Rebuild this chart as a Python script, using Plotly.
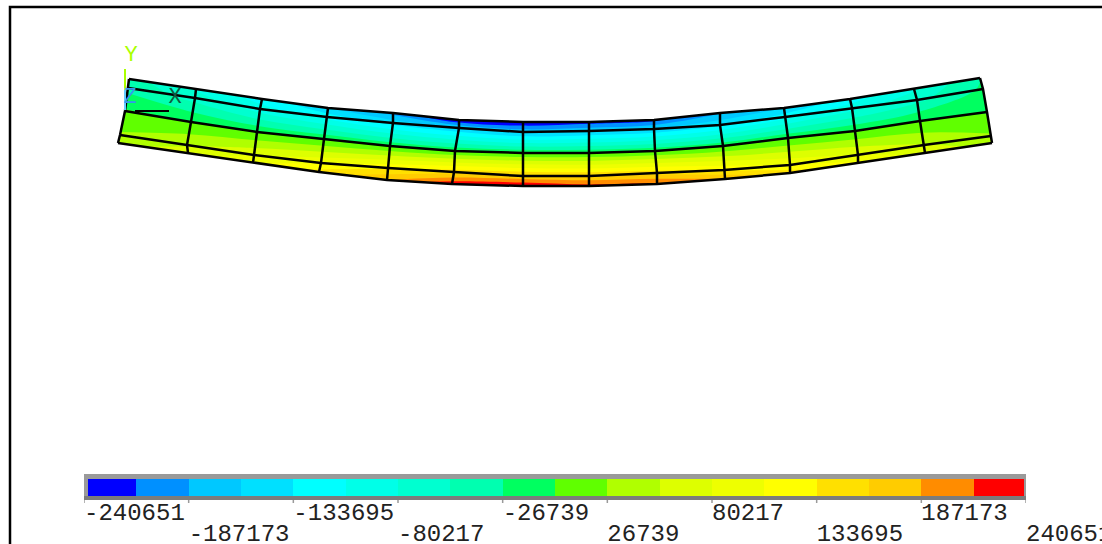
import plotly.graph_objects as go

W, H = 1102, 544

# Mesh node positions (columns left to right, rows top to bottom)
row_x = [
    [129, 196, 262, 328, 393, 459, 523, 589, 654, 720, 784, 850, 914, 980],
    [128, 195, 260, 327, 393, 459, 523, 589, 654, 720, 785, 852, 917, 983],
    [125, 191, 257, 324, 390, 455, 523, 589, 655, 723, 788, 855, 920, 987],
    [120, 187, 254, 321, 388, 454, 523, 589, 657, 724, 790, 858, 924, 991],
    [118, 188, 253, 319, 387, 452, 523, 589, 657, 725, 790, 858, 925, 992],
]
row_y = [
    [79, 89, 99, 108, 113, 120, 122, 122, 120, 113, 108, 99, 89, 78],
    [88, 98, 109, 117, 123, 128, 132, 131, 129, 125, 117, 108, 100, 89],
    [111, 122, 132, 139, 146, 151, 153, 153, 151, 146, 138, 131, 121, 112],
    [135, 145, 155, 163, 168, 172, 176, 176, 173, 170, 165, 155, 145, 136],
    [143, 153, 163, 172, 180, 184, 186, 186, 184, 179, 173, 163, 153, 143],
]

# Stress read at each mesh node
stress_top = [-40000, -85000, -120000, -158000, -198000, -240000, -240000, -226000, -222000, -190000, -160000, -122000, -84000, -28000]
stress_upper = [-35000, -65000, -95000, -118000, -145000, -160000, -168000, -165000, -160000, -140000, -118000, -92000, -62000, -22000]
stress_mid = [3000, 0, -2000, -4000, -4000, -3000, -2000, -2000, -3000, -4000, -4000, -2000, 0, -2000]
stress_lower = [30000, 50000, 78000, 105000, 130000, 150000, 165000, 160000, 150000, 130000, 108000, 82000, 55000, 30000]
stress_bottom = [45000, 70000, 105000, 145000, 188000, 232000, 240000, 224000, 220000, 188000, 150000, 112000, 72000, 42000]
stress_rows = [stress_top, stress_upper, stress_mid, stress_lower, stress_bottom]

# Legend
band_colors = ["#0000FF", "#0090FF", "#00C8FF", "#00E0FF", "#00FFFF", "#00FFE8",
               "#00FFD0", "#00FFB0", "#00FF60", "#60FF00", "#B0FF00", "#DDFF00",
               "#EEFF00", "#FFFF00", "#FFE000", "#FFCC00", "#FF8C00", "#FF0000"]
level_min, level_max, level_step = -240651, 240651, 26739.0
upper_ticks = [-240651, -133695, -26739, 80217, 187173]
lower_ticks = [-187173, -80217, 26739, 133695, 240651]

# Triad
triad = [("Y", 131, 55, "#AAFF00"), ("Z", 130, 97, "#3399EE"), ("X", 175, 97, "#0F5A40")]
triad_axes = [([125, 125], [69, 90], "#AAFF00"), ([125, 125], [90, 110], "#66CCFF"), ([135, 169], [111, 111], "#000000")]

n_cols, n_rows = len(row_x[0]), len(row_x)
colorscale = []
for i, c in enumerate(band_colors):
    colorscale += [[i / 18, c], [(i + 1) / 18, c]]

fig = go.Figure()

fig.add_trace(go.Carpet(
    carpet="beam",
    a=list(range(n_cols)), b=list(range(n_rows)),
    x=row_x, y=row_y,
    aaxis=dict(smoothing=0, showgrid=False, showticklabels="none", showline=False, minorgridcount=0, startline=False, endline=False),
    baxis=dict(smoothing=0, showgrid=False, showticklabels="none", showline=False, minorgridcount=0, startline=False, endline=False),
))
fig.add_trace(go.Contourcarpet(
    carpet="beam",
    a=list(range(n_cols)), b=list(range(n_rows)), z=stress_rows,
    autocontour=False,
    contours=dict(start=level_min, end=level_max, size=level_step, coloring="fill"),
    line=dict(width=0),
    colorscale=colorscale, zmin=level_min, zmax=level_max,
    showscale=False,
))

# Mesh lines
mx, my = [], []
for r in range(n_rows):
    mx += row_x[r] + [None]
    my += row_y[r] + [None]
for c in range(n_cols):
    mx += [row_x[r][c] for r in range(n_rows)] + [None]
    my += [row_y[r][c] for r in range(n_rows)] + [None]
fig.add_trace(go.Scatter(x=mx, y=my, mode="lines", line=dict(color="#000000", width=2.5), hoverinfo="skip"))

# Triad
for xs, ys, c in triad_axes:
    fig.add_trace(go.Scatter(x=xs, y=ys, mode="lines", line=dict(color=c, width=2), hoverinfo="skip"))
for t, x, y, c in triad:
    fig.add_trace(go.Scatter(x=[x], y=[y], mode="text", text=[t],
                             textfont=dict(family="Liberation Mono", size=22, color=c), hoverinfo="skip"))

# Frame
fig.add_trace(go.Scatter(x=[W, 10, 10], y=[7, 7, H], mode="lines",
                         line=dict(color="#000000", width=2.5), hoverinfo="skip", cliponaxis=False))

# Legend frame
span = level_max - level_min
fig.add_trace(go.Bar(x=[0], width=[span], base=[474], y=[26], xaxis="x2", yaxis="y",
                     marker=dict(color="#9A9A9A", line=dict(width=0)), hoverinfo="skip"))
centers = [level_min + (i + 0.5) * span / 18 for i in range(18)]
fig.add_trace(go.Bar(x=centers, width=[span / 18] * 18, base=[479] * 18, y=[17] * 18,
                     xaxis="x2", yaxis="y",
                     marker=dict(color=band_colors, line=dict(width=0)), hoverinfo="skip"))

# Legend ticks
all_ticks = sorted(upper_ticks + lower_ticks)
tx, ty = [], []
for t in all_ticks:
    tx += [t, t, None]
    ty += [500, 503, None]
fig.add_trace(go.Scatter(x=tx, y=ty, xaxis="x2", yaxis="y", mode="lines",
                         line=dict(color="#9A9A9A", width=1.5), hoverinfo="skip", cliponaxis=False))

label_font = dict(family="Liberation Mono", size=24, color="#222222")
fig.add_trace(go.Scatter(x=upper_ticks, y=[502] * 5, xaxis="x2", yaxis="y", mode="text",
                         text=[str(v) for v in upper_ticks], textposition="bottom right",
                         textfont=label_font, cliponaxis=False, hoverinfo="skip"))
fig.add_trace(go.Scatter(x=lower_ticks, y=[523] * 5, xaxis="x2", yaxis="y", mode="text",
                         text=[str(v) for v in lower_ticks], textposition="bottom right",
                         textfont=label_font, cliponaxis=False, hoverinfo="skip"))

hidden = dict(visible=False, showgrid=False, zeroline=False, fixedrange=True)
strip = dict(type="rect", xref="x", yref="y", layer="above", line=dict(width=0))
fig.update_layout(
    width=W, height=H, autosize=False,
    margin=dict(l=0, r=0, t=0, b=0),
    paper_bgcolor="#FFFFFF", plot_bgcolor="rgba(0,0,0,0)",
    showlegend=False, barmode="overlay", bargap=0,
    xaxis=dict(range=[0, W], domain=[0, 1], **hidden),
    yaxis=dict(range=[H, 0], domain=[0, 1], **hidden),
    xaxis2=dict(range=[level_min, level_max], domain=[84 / W, 1026 / W], anchor="y", **hidden),
    shapes=[
        dict(strip, x0=84, x1=88, y0=474, y1=500, fillcolor="#9A9A9A"),
        dict(strip, x0=1024, x1=1026, y0=474, y1=500, fillcolor="#9A9A9A"),
        dict(strip, x0=84, x1=1026, y0=496, y1=500, fillcolor="#7C7C7C"),
    ],
)
fig.write_html("out.html", config=dict(displayModeBar=False),
               post_script="document.body.style.margin='0';document.documentElement.style.overflow='hidden';")
